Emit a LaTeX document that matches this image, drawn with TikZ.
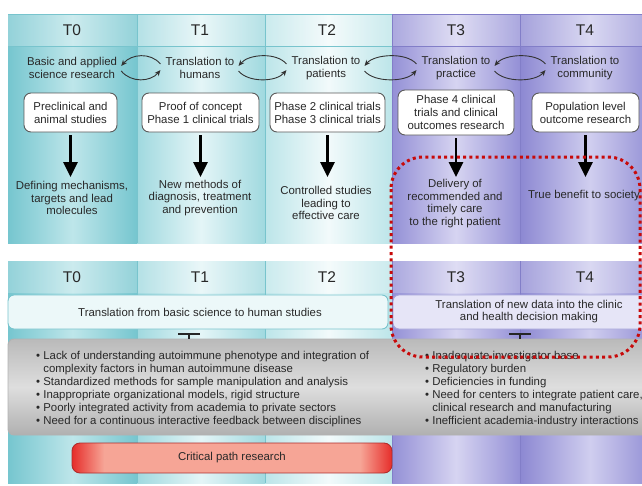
\documentclass[tikz,border=0pt]{standalone}
\usepackage{fontspec}
\setmainfont{Liberation Sans}
\usetikzlibrary{arrows.meta}
% column colours: edge / centre
\definecolor{t0e}{RGB}{118,198,207}
\definecolor{t0c}{RGB}{190,230,234}
\definecolor{t1e}{RGB}{160,217,223}
\definecolor{t1c}{RGB}{228,245,247}
\definecolor{t2e}{RGB}{188,229,233}
\definecolor{t2c}{RGB}{242,250,251}
\definecolor{t3e}{RGB}{148,144,214}
\definecolor{t3c}{RGB}{214,212,241}
\definecolor{t4e}{RGB}{140,136,210}
\definecolor{t4c}{RGB}{208,206,239}
\definecolor{tline}{RGB}{120,196,205}
\definecolor{pline}{RGB}{130,126,200}
\definecolor{txt}{RGB}{40,40,40}
\definecolor{boxline}{RGB}{90,90,90}
\definecolor{dotred}{RGB}{200,10,10}
\definecolor{critL}{RGB}{230,45,42}
\definecolor{critM}{RGB}{246,165,150}
\definecolor{critB}{RGB}{175,45,45}
\definecolor{gTop}{RGB}{186,186,186}
\definecolor{gMid}{RGB}{222,222,222}
\definecolor{gBot}{RGB}{176,176,176}
\begin{document}
\begin{tikzpicture}[x=1pt,y=-1pt,
  every node/.style={font=\fontsize{11.4}{12.9}\selectfont, text=txt, inner sep=2pt},
  lbl/.style={align=center},
  head/.style={font=\fontsize{15.5}{18}\selectfont},
  stage/.style={draw=boxline, line width=0.9pt, fill=white, rounded corners=7pt,
    align=center, minimum height=39pt},
  bigarrow/.style={line width=2.8pt, draw=black,
    -{Triangle[width=14pt,length=15pt]}, shorten <=3pt},
  cyc/.style={line width=0.9pt, draw=black!80, -{Stealth[length=6pt,width=5pt]}},
  inhib/.style={line width=2.4pt, draw=black!85, -{Bar[width=22pt,line width=2.2pt]}},
  lst/.style={align=left, inner sep=0pt, font=\fontsize{11.4}{12.85}\selectfont},
  reddot/.style={draw=dotred, line width=3pt, dash pattern=on 3pt off 3.3pt}]
\useasboundingbox (0,0) rectangle (642,485);

% ---- column backgrounds of both panels ----
\foreach \xa/\xb/\ce/\cc in {8/137/t0e/t0c, 137/265/t1e/t1c, 265/392/t2e/t2c,
                             392/520/t3e/t3c, 520/660/t4e/t4c} {
  \shade[left color=\ce, right color=\ce, middle color=\cc] (\xa,14) rectangle (\xb,243);
  \shade[left color=\ce, right color=\ce, middle color=\cc] (\xa,261) rectangle (\xb,483);
}
% header bands
\fill[white, opacity=0.22] (8,14) rectangle (660,46);
\fill[white, opacity=0.22] (8,261) rectangle (660,293);
\draw[tline, line width=1pt] (8,46) -- (392,46);
\draw[pline, line width=1pt] (392,46) -- (660,46);
\draw[tline, line width=0.8pt] (8,14) -- (392,14);
\draw[pline, line width=0.8pt] (392,14) -- (660,14);
% column dividers
\foreach \x/\c in {137/tline, 265/tline, 392/pline, 520/pline} {
  \draw[\c, line width=0.8pt] (\x,14) -- (\x,243);
  \draw[\c, line width=0.8pt] (\x,261) -- (\x,483);
}

% ---- top panel ----
\node[head] (h0) at (72,30) {T0};
\node[head] (h1) at (200,30) {T1};
\node[head] (h2) at (327,30) {T2};
\node[head] (h3) at (456,30) {T3};
\node[head] (h4) at (585,30) {T4};

\node[lbl] (l0) at (72,68) {Basic and applied\\science research};
\node[lbl] (l1) at (200,68) {Translation to\\humans};
\node[lbl] (l2) at (326,68) {Translation to\\patients};
\node[lbl] (l3) at (456,68) {Translation to\\practice};
\node[lbl] (l4) at (585,68) {Translation to\\community};

% back-and-forth arrows between neighbouring stages
\foreach \a/\b in {l0/l1, l1/l2, l2/l3, l3/l4} {
  \draw[cyc] ([shift={(-3,-4)}]\b.west) .. controls +(-10,-12) and +(10,-12) .. ([shift={(2,-2)}]\a.east);
  \draw[cyc] ([shift={(2,3)}]\a.east) .. controls +(10,12) and +(-10,12) .. ([shift={(-3,2)}]\b.west);
}

\node[stage, minimum width=93pt] (b0) at (70.5,112.5) {Preclinical and\\animal studies};
\node[stage, minimum width=117pt] (b1) at (200.5,112.5) {Proof of concept\\Phase 1 clinical trials};
\node[stage, minimum width=115pt] (b2) at (327.5,112.5) {Phase 2 clinical trials\\Phase 3 clinical trials};
\node[stage, minimum width=116pt, minimum height=45pt] (b3) at (456,112.5) {Phase 4 clinical\\trials and clinical\\outcomes research};
\node[stage, minimum width=107pt] (b4) at (585.5,112.5) {Population level\\outcome research};

\coordinate (ay) at (0,177);
\foreach \b in {b0,b1,b2,b3,b4}
  \draw[bigarrow] (\b.south) -- (\b.south |- ay);

\node[lbl] (r0) at (72,198) {Defining mechanisms,\\targets and lead\\molecules};
\node[lbl] (r1) at (200,198) {New methods of\\diagnosis, treatment\\and prevention};
\node[lbl] (r2) at (326,203) {Controlled studies\\leading to\\effective care};
\node[lbl] (r3) at (455,203.5) {Delivery of\\recommended and\\timely care\\to the right patient};
\node[lbl] (r4) at (584,196) {True benefit to society};

% ---- bottom panel ----
\node[head] (g0) at (72,277) {T0};
\node[head] (g1) at (200,277) {T1};
\node[head] (g2) at (327,277) {T2};
\node[head] (g3) at (456,277) {T3};
\node[head] (g4) at (585,277) {T4};

\draw[draw=tline, line width=0.9pt, fill=t1c!70!white, rounded corners=6pt] (8,295) rectangle (388,329);
\draw[draw=pline!70, line width=0.9pt, fill=t3c!60!white, rounded corners=6pt] (393,295) rectangle (670,329);
\node (bn1) at (200,312) {Translation from basic science to human studies};
\node[lbl] (bn2) at (529,311.5) {Translation of new data into the clinic\\and health decision making};

\node[draw=gray!60, line width=0.9pt, rounded corners=6pt, minimum width=652pt, minimum height=96pt,
      top color=gTop, bottom color=gBot, middle color=gMid] (gb) at (334,387) {};

\coordinate (c1) at (189,0);
\coordinate (c2) at (520,0);
\draw[inhib] (gb.north -| c1) -- ++(0,-6);
\draw[inhib] (gb.north -| c2) -- ++(0,-6);

\node[lst, anchor=north west] (ll) at (36,351.5) {%
\textbullet\ Lack of understanding autoimmune phenotype and integration of\\
\phantom{\textbullet\ }complexity factors in human autoimmune disease\\
\textbullet\ Standardized methods for sample manipulation and analysis\\
\textbullet\ Inappropriate organizational models, rigid structure\\
\textbullet\ Poorly integrated activity from academia to private sectors\\
\textbullet\ Need for a continuous interactive feedback between disciplines};

\node[lst, anchor=north west] (rl) at (425,351.5) {%
\textbullet\ Inadequate investigator base\\
\textbullet\ Regulatory burden\\
\textbullet\ Deficiencies in funding\\
\textbullet\ Need for centers to integrate patient care,\\
\phantom{\textbullet\ }clinical research and manufacturing\\
\textbullet\ Inefficient academia-industry interactions};

% critical path bar: red ends fading into a pale middle
\begin{scope}
  \clip[rounded corners=8pt] (72,443) rectangle (392,473);
  \shade[left color=critL, right color=critM] (72,443) rectangle (104,473);
  \fill[critM] (103.5,443) rectangle (360.5,473);
  \shade[left color=critM, right color=critL] (360,443) rectangle (392,473);
\end{scope}
\node[draw=critB, line width=0.9pt, rounded corners=8pt, minimum width=320pt, minimum height=30pt]
  (cp) at (232,458) {Critical path research};

% highlighted region
\draw[reddot, rounded corners=32pt] (391,157) rectangle (640,357);
\end{tikzpicture}
\end{document}
